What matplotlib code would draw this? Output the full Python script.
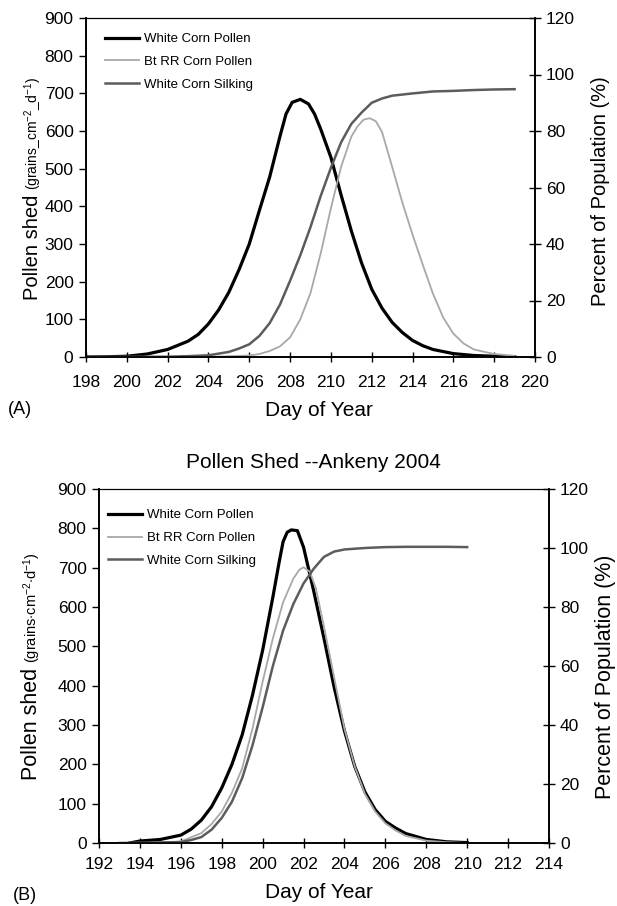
import matplotlib
matplotlib.use('Agg')
import matplotlib.pyplot as plt

plt.rcParams['font.family'] = ['Liberation Sans', 'DejaVu Sans']
plt.rcParams['mathtext.fontset'] = 'custom'
plt.rcParams['mathtext.rm'] = 'Liberation Sans'
plt.rcParams['mathtext.it'] = 'Liberation Sans:italic'
plt.rcParams['mathtext.bf'] = 'Liberation Sans:bold'

# ---- panel A data ----
a_days_white = [198, 199, 200, 201, 202, 203, 203.5, 204, 204.5, 205, 205.5, 206, 206.5, 207, 207.5,
                207.8, 208.1, 208.5, 208.9, 209.2, 209.5, 210, 210.5, 211, 211.5, 212, 212.5, 213,
                213.5, 214, 214.5, 215, 216, 217, 218, 219]
a_white = [0, 0.5, 2, 8, 20, 42, 60, 88, 125, 172, 232, 300, 390, 478, 585,
           645, 676, 684, 672, 645, 605, 530, 430, 335, 250, 180, 130, 92,
           65, 44, 30, 20, 9, 4, 2, 1]

a_days_bt = [203, 204, 205, 206, 206.5, 207, 207.5, 208, 208.5, 209, 209.5, 210, 210.5, 211, 211.3,
             211.6, 211.9, 212.2, 212.5, 213, 213.5, 214, 214.5, 215, 215.5, 216, 216.5, 217, 218, 219]
a_bt = [0, 0.5, 2, 4, 8, 16, 28, 52, 100, 170, 275, 395, 505, 585, 612,
        630, 634, 626, 598, 505, 410, 325, 245, 168, 105, 62, 36, 20, 8, 3]

a_days_silk = [198, 202, 203, 204, 205, 205.5, 206, 206.5, 207, 207.5, 208, 208.5, 209, 209.5, 210,
               210.5, 211, 211.5, 212, 212.5, 213, 214, 215, 216, 217, 218, 219]
a_silk = [0, 0.1, 0.3, 0.6, 1.8, 3, 4.5, 7.5, 12, 18.5, 27, 36, 46, 57, 67,
          76, 82.5, 86.5, 90, 91.5, 92.5, 93.3, 94, 94.2, 94.5, 94.7, 94.8]

# ---- panel B data ----
b_days_white = [193.5, 194, 195, 196, 196.5, 197, 197.5, 198, 198.5, 199, 199.5, 200, 200.5, 200.8,
                201, 201.2, 201.4, 201.7, 202, 202.5, 203, 203.5, 204, 204.5, 205, 205.5, 206, 206.5,
                207, 208, 209, 210]
b_white = [0, 5, 9, 20, 35, 58, 92, 140, 200, 275, 375, 490, 625, 712,
           766, 790, 796, 794, 752, 640, 520, 395, 285, 195, 130, 85, 55, 38,
           24, 9, 3, 1]

b_days_bt = [195, 196, 197, 197.5, 198, 198.5, 199, 199.5, 200, 200.5, 201, 201.5, 201.8, 202, 202.3,
             202.6, 203, 203.5, 204, 204.5, 205, 205.5, 206, 206.5, 207, 208, 209, 210]
b_bt = [0, 4, 25, 48, 80, 128, 190, 290, 410, 520, 612, 672, 695, 701, 690,
        648, 550, 420, 290, 195, 125, 80, 50, 32, 18, 6, 2, 0]

b_days_silk = [193, 196, 196.5, 197, 197.5, 198, 198.5, 199, 199.5, 200, 200.5, 201, 201.5, 202,
               202.5, 203, 203.5, 204, 205, 206, 207, 208, 209, 210]
b_silk = [0, 0.3, 1, 2, 4.5, 8.5, 14, 22, 33, 46, 60, 72, 81, 88,
          93, 97, 98.8, 99.5, 100, 100.3, 100.4, 100.4, 100.4, 100.3]

W, H = 617, 906
fig = plt.figure(figsize=(W / 100, H / 100), dpi=100)


def draw_panel(rect, dw, w, db, b, ds, s, x0, x1, leg_xy, xpad):
    ax = fig.add_axes(rect)
    l1, = ax.plot(dw, w, color='black', lw=2.3, label='White Corn Pollen')
    l2, = ax.plot(db, b, color='#a8a8a8', lw=1.3, label='Bt RR Corn Pollen')
    ax.set_xlim(x0, x1)
    ax.set_ylim(0, 900)
    ax.set_xticks(range(x0, x1 + 1, 2))
    ax.set_yticks(range(0, 901, 100))
    ax.tick_params(axis='y', direction='out', length=5, width=1, labelsize=12.5, pad=4)
    ax.tick_params(axis='x', direction='inout', length=7, width=1, labelsize=12.5, pad=xpad)

    ax2 = ax.twinx()
    l3, = ax2.plot(ds, s, color='#5c5c5c', lw=1.8, label='White Corn Silking')
    ax2.set_ylim(0, 120)
    ax2.set_yticks(range(0, 121, 20))
    ax2.tick_params(axis='y', direction='inout', length=8, width=1, labelsize=12.5, pad=4)

    for a in (ax, ax2):
        for side in ('left', 'right', 'bottom'):
            a.spines[side].set_linewidth(1.2)
        a.spines['top'].set_linewidth(0.8)

    ax2.legend(handles=[l1, l2, l3], loc='upper left', bbox_to_anchor=leg_xy, frameon=False,
               fontsize=9.5, borderpad=0, borderaxespad=0, handlelength=2.6,
               handletextpad=0.35, labelspacing=0.8)
    return ax


axA = draw_panel([86 / W, 1 - 357 / H, 449 / W, 339 / H], a_days_white, a_white, a_days_bt, a_bt,
                 a_days_silk, a_silk, 198, 220, (0.042, 0.956), 9.5)
axB = draw_panel([99 / W, 1 - 843 / H, 450 / W, 354 / H], b_days_white, b_white, b_days_bt, b_bt,
                 b_days_silk, b_silk, 192, 214, (0.02, 0.943), 6.5)

fig.canvas.draw()
r = fig.canvas.get_renderer()


def pollen_label(x, y_bottom, units, size, usize):
    # big "Pollen shed" followed by the smaller units, stacked bottom to top
    t1 = fig.text(x / W, 1 - y_bottom / H, 'Pollen shed', rotation=90, rotation_mode='anchor',
                  ha='left', va='baseline', fontsize=size)
    h = t1.get_window_extent(r).height
    fig.text(x / W, 1 - (y_bottom - h - 5) / H, units, rotation=90, rotation_mode='anchor',
             ha='left', va='baseline', fontsize=usize)


pollen_label(38, 300, r'(grains_cm$^{\mathregular{-2}}$_d$^{\mathregular{-1}}$)', 14.5, 10)
pollen_label(37, 780, r'(grains$\cdot$cm$^{\mathregular{-2}}$$\cdot$d$^{\mathregular{-1}}$)', 15.5, 10.5)

fig.text(601 / W, 1 - 191 / H, 'Percent of Population (%)', rotation=90, ha='center', va='center',
         fontsize=14.5)
fig.text(605 / W, 1 - 677 / H, 'Percent of Population (%)', rotation=90, ha='center', va='center',
         fontsize=15.5)

fig.text(319 / W, 1 - 410 / H, 'Day of Year', ha='center', va='center', fontsize=15)
fig.text(319 / W, 1 - 893 / H, 'Day of Year', ha='center', va='center', fontsize=15)
fig.text(8 / W, 1 - 410 / H, '(A)', ha='left', va='center', fontsize=13)
fig.text(13 / W, 1 - 895 / H, '(B)', ha='left', va='center', fontsize=13)
fig.text(313 / W, 1 - 463 / H, 'Pollen Shed --Ankeny 2004', ha='center', va='center', fontsize=15)

fig.savefig('out.png', dpi=100)
